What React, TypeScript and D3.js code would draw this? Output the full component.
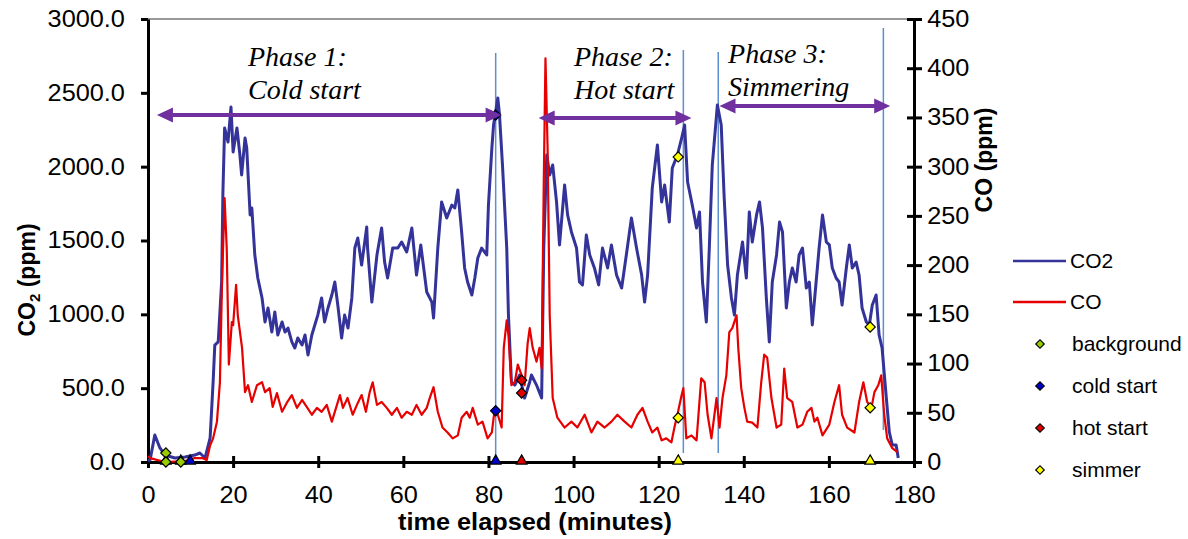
import { useEffect, useRef } from "react";
import * as d3 from "d3";

// CO2 trace (minutes, ppm)
const co2Time = [
  0, 0.5, 1.6, 2.8, 4, 6.3, 8.7, 11, 12.2, 13.4, 14.6, 15.3, 15.7, 16.5, 17.3, 17.6, 18, 18.8, 19.5, 20,
  20.9, 21.6, 22, 22.8, 23.2, 24, 24.4, 25.1, 25.8, 26.8, 27.5, 28.2, 29.1, 29.8, 30.5, 31.5, 32.2, 32.9,
  33.8, 34.5, 35.2, 36.2, 36.9, 37.6, 38.5, 39.2, 39.9, 40.8, 41.5, 42.3, 43.2, 43.9, 44.6, 45.5, 46.2,
  47, 47.9, 48.6, 49.3, 50.2, 51.4, 51.6, 52.6, 53.8, 54.9, 55.6, 56.3, 57.5, 58.7, 59.6, 60.8, 62, 63.1,
  64.1, 65.5, 66.7, 67.1, 68.1, 69, 70.2, 71.4, 72.1, 72.8, 73.7, 74.4, 75.1, 76.1, 76.8, 77.5, 78.4,
  79.6, 80, 80.8, 81.2, 82.2, 82.6, 83.3, 84.3, 84.7, 85.4, 86.2, 87.3, 88.5, 89.7, 90.1, 91.3, 92.5, 93,
  93.7, 94.4, 95.1, 96, 96.7, 97.9, 98.6, 99.5, 100.7, 101.4, 102.1, 103, 103.8, 104.9, 105.9, 106.8, 108,
  108.9, 110.1, 111.3, 112.4, 113.6, 114.8, 116, 116.7, 117.4, 118.5, 119.7, 120.7, 121.4, 122.5, 123.2,
  124.4, 125.4, 126.1, 126.8, 127.9, 128.9, 129.6, 130.3, 131.2, 131.9, 132.6, 133.8, 134.7, 135.4, 136.2,
  137.1, 137.8, 138.5, 139.7, 140.6, 141.3, 142, 143, 143.7, 144.4, 145.3, 146, 146.7, 147.7, 148.4, 149.1,
  150, 150.7, 151.4, 152.3, 153, 153.8, 154.7, 155.4, 156.1, 157, 157.7, 158.5, 159.4, 160.1, 160.8, 161.7,
  162.4, 163.1, 164.1, 164.8, 165.5, 166.4, 167.1, 167.8, 168.8, 169.5, 170.2, 171.1, 171.8, 172.5, 173.5,
  174.2, 174.9, 175.8, 176.3,
];
const co2Values = [
  5, 15, 183, 95, 47, 27, 34, 47, 61, 27, 163, 542, 792, 813, 1219, 1822, 2262, 2167, 2404, 2100,
  2262, 2079, 1944, 2194, 2126, 1673, 1720, 1402, 1246, 1111, 948, 1043, 880, 1016, 860, 948, 880, 907,
  813, 772, 840, 792, 860, 725, 860, 928, 995, 1111, 948, 1043, 1131, 1219, 1063, 840, 995,
  907, 1111, 1449, 1517, 1334, 1591, 1449, 1083, 1402, 1585, 1354, 1246, 1449, 1449, 1490, 1422, 1585, 1266,
  1470, 1151, 1083, 975, 1449, 1761, 1652, 1740, 1720, 1842, 1558, 1314, 1219, 1131, 1246, 1381, 1449,
  1402, 1740, 2126, 2282, 2465, 2350, 2011, 1449, 995, 542, 521, 589, 433, 542, 589, 521, 433, 1449,
  2079, 1944, 2011, 1761, 1470, 1876, 1673, 1558, 1449, 1219, 1199, 1537, 1402, 1314, 1199, 1449, 1314,
  1470, 1266, 1178, 1402, 1652, 1449, 1266, 1083, 1266, 1856, 2147, 1761, 1876, 1625, 1991,
  2079, 2194, 2282, 1896, 1740, 1585, 1693, 1219, 948, 1449, 2011, 2418, 2282, 1788, 1334,
  1111, 995, 1266, 1490, 1246, 1693, 1490, 1673, 1761, 1585, 1111, 813, 1219, 1402, 1625, 1558,
  1043, 1219, 1314, 1219, 1402, 1449, 1178, 1219, 928, 1219, 1449, 1673, 1490, 1470, 1314, 1246,
  1219, 1063, 1314, 1470, 1314, 1354, 1266, 1043, 948, 928, 1063, 1131, 860, 772, 433,
  203, 115, 115, 27,
];

// CO trace (minutes, ppm)
const coTime = [
  0, 0.5, 4, 8.7, 11, 12.7, 13.8, 14.6, 15.3, 16.2, 16.9, 17.4, 18, 18.5, 19, 19.7, 20, 20.7, 21.1, 22.1,
  22.8, 23.5, 24.4, 25.6, 26.8, 27.5, 28.6, 29.3, 30.3, 31.5, 32.6, 33.8, 35, 36.2, 37.3, 38.5, 39.7, 40.8,
  42, 43.2, 44.4, 45.1, 45.8, 46.9, 48.1, 49.3, 50.2, 51.2, 52.1, 52.8, 53.8, 54.9, 56.1, 57.3, 58.5, 59.6,
  60.8, 62, 63.1, 64.3, 65.5, 66.2, 67.1, 68.1, 69.2, 70.4, 71.6, 72.8, 73.7, 74.9, 75.6, 76.3, 77.5, 78.6,
  79.8, 80.8, 81.5, 82.2, 83.1, 83.6, 84.3, 84.7, 85.4, 86.2, 86.9, 87.8, 88.5, 89.2, 89.7, 90.4, 91.3, 92,
  92.5, 93, 93.4, 93.9, 94.4, 95.1, 96.2, 97.9, 99.5, 100.9, 102.6, 104.2, 105.6, 107.3, 108.9, 110.3, 112,
  113.6, 115, 116.2, 117.4, 118.5, 119.7, 120.7, 121.8, 123, 123.7, 124.4, 125.4, 125.8, 126.5, 127.7,
  128.9, 130, 130.8, 131.5, 132.4, 133.6, 134.3, 135, 135.9, 136.6, 137.3, 138.3, 138.7, 139.4, 140.1,
  140.8, 142, 143.2, 144.1, 144.8, 145.5, 146.5, 147.7, 148.8, 149.5, 150.2, 151.4, 152.6, 153.8, 154.9,
  155.9, 156.6, 157.3, 158.5, 160.1, 161.3, 162.4, 163.1, 164.3, 166, 167.1, 168.1, 169, 170, 170.7, 171.6,
  172.3, 173, 173.7, 174.9, 176.1,
];
const coValues = [
  6, 4, 0, 1, 4, 4, 2, 17, 24, 41, 81, 183, 268, 217, 99, 142, 139, 180, 149, 116,
  71, 78, 61, 78, 81, 71, 75, 56, 70, 51, 60, 68, 55, 63, 56, 48, 55, 51,
  58, 41, 58, 68, 55, 65, 48, 60, 68, 51, 71, 81, 58, 61, 55, 48, 55, 45,
  51, 48, 58, 48, 55, 65, 76, 51, 35, 30, 24, 27, 45, 51, 45, 55, 38, 41,
  24, 30, 55, 48, 35, 116, 144, 129, 78, 81, 99, 88, 78, 120, 136, 116, 102, 116,
  95, 284, 410, 319, 149, 65, 45, 35, 41, 35, 48, 30, 41, 35, 41, 48, 41,
  35, 48, 55, 41, 30, 35, 22, 24, 20, 35, 48, 68, 75, 24, 27,
  22, 85, 81, 48, 24, 65, 35, 65, 88, 132, 136, 149, 116, 75, 56,
  41, 40, 35, 81, 109, 106, 65, 35, 38, 95, 65, 61, 35, 38, 51,
  55, 41, 45, 27, 38, 61, 78, 48, 35, 30, 61, 81, 61, 55, 71, 78,
  88, 48, 24, 14, 10,
];

// sample points (diamonds) per phase
const legendNames = ["background", "cold start", "hot start", "simmer"];
const diamondCategory = [0, 0, 0, 1, 1, 2, 2, 3, 3, 3, 3];
const diamondTime = [4.2, 4.2, 7.7, 81.7, 81.7, 87.8, 87.8, 124.6, 124.6, 169.7, 169.7];
const diamondValue = [61, 0, 0, 2350, 52, 467, 83, 2066, 45, 914, 55];
const diamondAxis = ["co2", "co2", "co2", "co2", "co", "co2", "co", "co2", "co", "co2", "co"];

// sampling times (triangles on the time axis)
const triangleCategory = [0, 0, 1, 1, 2, 3, 3];
const triangleTime = [4.2, 7.7, 9.9, 81.7, 87.8, 124.6, 169.7];

// phase annotations
const phaseLines = [
  ["Phase 1:", "Cold start"],
  ["Phase 2:", "Hot start"],
  ["Phase 3:", "Simmering"],
];
const phaseLabelTime = [23.5, 100.1, 136.3];
const phaseLabelLevel = [2680, 2680, 2705];
const arrowStart = [2.1, 91.8, 134.3];
const arrowEnd = [83.1, 127.7, 174.4];
const arrowLevel = [2350, 2330, 2411];

// phase boundary lines (minutes, CO2 top / bottom)
const boundaryTime = [81.7, 125.8, 134, 172.8];
const boundaryTop = [2770, 2790, 2777, 2939];
const boundaryBottom = [0, 61, 61, 217];

const markerColors = ["#99cc00", "#0000cc", "#e00000", "#ffff00"];
const CO2_COLOR = "#333399";
const CO_COLOR = "#e60000";
const SANS = "'Liberation Sans', Arial, sans-serif";

export default function App() {
  const svgRef = useRef<SVGSVGElement>(null);

  useEffect(() => {
    const svg = d3.select(svgRef.current);
    svg.selectAll("*").remove();

    const x = d3.scaleLinear().domain([0, 180]).range([148, 914]);
    const yL = d3.scaleLinear().domain([0, 3000]).range([462, 19]);
    const yR = d3.scaleLinear().domain([0, 450]).range([462, 19]);

    // top border of plot area
    svg
      .append("line")
      .attr("x1", x(0))
      .attr("x2", x(180))
      .attr("y1", yL(3000))
      .attr("y2", yL(3000))
      .attr("stroke", "#999")
      .attr("stroke-width", 2);

    // axes
    const styleAxis = (g: any, sx: number) => {
      g.select(".domain").attr("stroke", "#000").attr("stroke-width", 3);
      g.selectAll(".tick line").attr("stroke", "#000").attr("stroke-width", 3);
      g.selectAll(".tick text")
        .attr("font-family", SANS)
        .attr("font-size", 23)
        .attr("fill", "#000")
        .attr("transform", `scale(${sx},1)`);
    };

    const left = svg
      .append("g")
      .attr("transform", `translate(${x(0)},0)`)
      .call(
        d3
          .axisLeft(yL)
          .tickValues(d3.range(0, 3001, 500))
          .tickFormat(d3.format(".1f"))
          .tickSizeInner(7)
          .tickSizeOuter(0)
          .tickPadding(14)
      );
    styleAxis(left, 1.1);

    const right = svg
      .append("g")
      .attr("transform", `translate(${x(180)},0)`)
      .call(
        d3
          .axisRight(yR)
          .tickValues(d3.range(0, 451, 50))
          .tickFormat(d3.format("d"))
          .tickSizeInner(8)
          .tickSizeOuter(0)
          .tickPadding(4)
      );
    styleAxis(right, 1.1);
    right.selectAll(".tick line").attr("x1", -7);

    const bottom = svg
      .append("g")
      .attr("transform", `translate(0,${yL(0)})`)
      .call(
        d3
          .axisBottom(x)
          .tickValues(d3.range(0, 181, 20))
          .tickSizeInner(6)
          .tickSizeOuter(0)
          .tickPadding(19)
      );
    styleAxis(bottom, 1.1);
    bottom.selectAll(".tick line").attr("y1", -6);

    // phase boundary lines
    svg
      .append("g")
      .selectAll("line")
      .data(boundaryTime)
      .join("line")
      .attr("x1", (d) => x(d))
      .attr("x2", (d) => x(d))
      .attr("y1", (_, i) => yL(boundaryTop[i]))
      .attr("y2", (_, i) => yL(boundaryBottom[i]))
      .attr("stroke", "#5b8fd0")
      .attr("stroke-width", 1.5);

    // series lines
    const co2Line = d3
      .line<number>()
      .x((_, i) => x(co2Time[i]))
      .y((d) => yL(d));
    svg
      .append("path")
      .datum(co2Values)
      .attr("fill", "none")
      .attr("stroke", CO2_COLOR)
      .attr("stroke-width", 3)
      .attr("stroke-linejoin", "round")
      .attr("d", co2Line);

    const coLine = d3
      .line<number>()
      .x((_, i) => x(coTime[i]))
      .y((d) => yR(d));
    svg
      .append("path")
      .datum(coValues)
      .attr("fill", "none")
      .attr("stroke", CO_COLOR)
      .attr("stroke-width", 2.2)
      .attr("stroke-linejoin", "round")
      .attr("d", coLine);

    // markers
    const diamond = d3.symbol(d3.symbolSquare, 52);
    const triangle = d3.symbol(d3.symbolTriangle, 48);

    svg
      .append("g")
      .selectAll("path")
      .data(triangleTime)
      .join("path")
      .attr("d", triangle)
      .attr("transform", (d) => `translate(${x(d)},${yL(0) - 1})`)
      .attr("fill", (_, i) => markerColors[triangleCategory[i]])
      .attr("stroke", "#000")
      .attr("stroke-width", 1.2);

    svg
      .append("g")
      .selectAll("path")
      .data(diamondTime)
      .join("path")
      .attr("d", diamond)
      .attr("transform", (d, i) => {
        const y = diamondAxis[i] === "co2" ? yL(diamondValue[i]) : yR(diamondValue[i]);
        return `translate(${x(d)},${y}) rotate(45)`;
      })
      .attr("fill", (_, i) => markerColors[diamondCategory[i]])
      .attr("stroke", "#000")
      .attr("stroke-width", 1.2);

    // phase arrows
    const purple = "#7030a0";
    const arrows = svg.append("g");
    arrowStart.forEach((s, i) => {
      const x1 = x(s);
      const x2 = x(arrowEnd[i]);
      const y = yL(arrowLevel[i]);
      const head = 16;
      const half = 7.5;
      arrows
        .append("line")
        .attr("x1", x1 + head - 2)
        .attr("x2", x2 - head + 2)
        .attr("y1", y)
        .attr("y2", y)
        .attr("stroke", purple)
        .attr("stroke-width", 4);
      arrows
        .append("path")
        .attr("d", `M${x1},${y}L${x1 + head},${y - half}L${x1 + head},${y + half}Z`)
        .attr("fill", purple);
      arrows
        .append("path")
        .attr("d", `M${x2},${y}L${x2 - head},${y - half}L${x2 - head},${y + half}Z`)
        .attr("fill", purple);
    });

    // phase labels
    phaseLines.forEach((lines, i) => {
      const t = svg
        .append("text")
        .attr("x", x(phaseLabelTime[i]))
        .attr("y", yL(phaseLabelLevel[i]))
        .attr("font-family", "'Liberation Serif', 'Times New Roman', serif")
        .attr("font-style", "italic")
        .attr("font-size", 28)
        .attr("fill", "#000");
      lines.forEach((l, j) => {
        t.append("tspan")
          .attr("x", x(phaseLabelTime[i]))
          .attr("dy", j === 0 ? 0 : 33)
          .text(l);
      });
    });

    // axis titles
    svg
      .append("text")
      .attr("transform", "translate(535,530) scale(1.1,1)")
      .attr("text-anchor", "middle")
      .attr("font-family", SANS)
      .attr("font-weight", "bold")
      .attr("font-size", 23)
      .text("time elapsed (minutes)");

    const lt = svg
      .append("text")
      .attr("transform", "translate(35,280) rotate(-90)")
      .attr("text-anchor", "middle")
      .attr("font-family", SANS)
      .attr("font-weight", "bold")
      .attr("font-size", 23);
    lt.append("tspan").text("CO");
    lt.append("tspan").attr("font-size", 15).attr("dy", 5).text("2");
    lt.append("tspan").attr("dy", -5).text(" (ppm)");

    svg
      .append("text")
      .attr("transform", "translate(992,160) rotate(-90)")
      .attr("text-anchor", "middle")
      .attr("font-family", SANS)
      .attr("font-weight", "bold")
      .attr("font-size", 23)
      .text("CO (ppm)");

    // legend
    const legend = svg.append("g");
    const lineItems = [
      { name: "CO2", color: CO2_COLOR, y: 261 },
      { name: "CO", color: CO_COLOR, y: 302 },
    ];
    lineItems.forEach((it) => {
      legend
        .append("line")
        .attr("x1", 1013)
        .attr("x2", 1066)
        .attr("y1", it.y)
        .attr("y2", it.y)
        .attr("stroke", it.color)
        .attr("stroke-width", 2.5);
      legend
        .append("text")
        .attr("transform", `translate(1070,${it.y + 7}) scale(1.05,1)`)
        .attr("font-family", SANS)
        .attr("font-size", 20)
        .text(it.name);
    });
    legendNames.forEach((name, i) => {
      const y = 344 + i * 42;
      legend
        .append("path")
        .attr("d", d3.symbol(d3.symbolSquare, 36)())
        .attr("transform", `translate(1040,${y}) rotate(45)`)
        .attr("fill", markerColors[i])
        .attr("stroke", "#000")
        .attr("stroke-width", 1.2);
      legend
        .append("text")
        .attr("transform", `translate(1072,${y + 7}) scale(1.05,1)`)
        .attr("font-family", SANS)
        .attr("font-size", 20)
        .text(name);
    });
  }, []);

  return (
    <svg
      ref={svgRef}
      width={1188}
      height={539}
      style={{ position: "absolute", left: 0, top: 0, background: "#fff" }}
    />
  );
}
